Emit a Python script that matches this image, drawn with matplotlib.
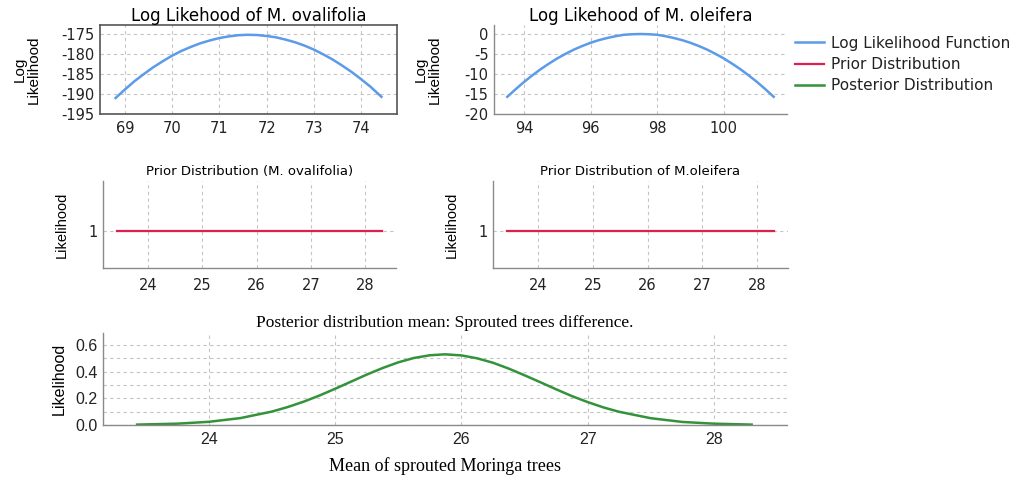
import matplotlib
matplotlib.use("Agg")
import matplotlib.pyplot as plt

plt.rcParams.update({
    "font.family": ["DejaVu Sans"],
    "font.size": 10,
    "axes.unicode_minus": False,
    "axes.linewidth": 1.0,
    "xtick.major.size": 0,
    "ytick.major.size": 0,
})

# log likelihood, M. ovalifolia
oval_x = [68.8, 69.0, 69.2, 69.4, 69.6, 69.8, 70.0, 70.2, 70.4, 70.6, 70.8, 71.0, 71.2, 71.4,
          71.6, 71.8, 72.0, 72.2, 72.4, 72.6, 72.8, 73.0, 73.2, 73.4, 73.6, 73.8, 74.0, 74.2, 74.43]
oval_ll = [-191.0, -188.85, -186.8, -185.0, -183.3, -181.8, -180.4, -179.2, -178.2, -177.3,
           -176.6, -176.0, -175.6, -175.3, -175.2, -175.26, -175.5, -175.84, -176.4, -177.06,
           -177.9, -178.9, -180.1, -181.4, -182.9, -184.5, -186.3, -188.2, -190.7]

# log likelihood, M. oleifera
olei_x = [93.5, 93.75, 94.0, 94.25, 94.5, 94.75, 95.0, 95.25, 95.5, 95.75, 96.0, 96.25, 96.5,
          96.75, 97.0, 97.25, 97.5, 97.75, 98.0, 98.25, 98.5, 98.75, 99.0, 99.25, 99.5, 99.75,
          100.0, 100.25, 100.5, 100.75, 101.0, 101.25, 101.5]
olei_ll = [-15.7, -13.8, -12.0, -10.35, -8.8, -7.41, -6.1, -4.96, -3.9, -3.0, -2.2, -1.53,
           -1.0, -0.55, -0.2, -0.06, 0.0, -0.06, -0.2, -0.55, -1.0, -1.53, -2.2, -3.0, -3.9,
           -4.96, -6.1, -7.41, -8.8, -10.35, -12.0, -13.8, -15.7]

# flat priors
prior_x = [23.42, 28.31]
prior_oval = [1, 1]
prior_olei = [1, 1]

# posterior of the mean difference
post_x = [23.43, 23.75, 24.0, 24.25, 24.5, 24.625, 24.75, 24.875, 25.0, 25.125, 25.25, 25.375,
          25.5, 25.625, 25.75, 25.87, 26.0, 26.125, 26.25, 26.375, 26.5, 26.625, 26.75, 26.875,
          27.0, 27.125, 27.25, 27.5, 27.75, 28.0, 28.3]
post_y = [0.003, 0.010, 0.024, 0.052, 0.101, 0.135, 0.175, 0.221, 0.272, 0.325, 0.378, 0.427,
          0.470, 0.503, 0.523, 0.530, 0.522, 0.500, 0.467, 0.423, 0.373, 0.321, 0.268, 0.217,
          0.172, 0.132, 0.099, 0.051, 0.023, 0.010, 0.003]

BLUE = "#5b9be8"
RED = "#e0204c"
GREEN = "#33923a"
GRID = "#c4c4c4"
SPINE = "#8a8a8a"

W, H = 1019, 478
fig = plt.figure(figsize=(W / 100, H / 100), dpi=100)
fig.patch.set_facecolor("white")


def box(x0, y0, x1, y1):
    return [x0 / W, 1 - y1 / H, (x1 - x0) / W, (y1 - y0) / H]


def style(ax, full=False, size=10.5, xpad=5):
    for s in ["top", "right"]:
        ax.spines[s].set_visible(full)
    for s in ax.spines.values():
        s.set_color("#555555" if full else SPINE)
        s.set_linewidth(1.2 if full else 1.0)
    ax.grid(True, color=GRID, linestyle=(0, (3, 3)), linewidth=0.8)
    ax.set_axisbelow(True)
    ax.tick_params(colors="#222222", labelsize=size)
    ax.tick_params(axis="x", pad=xpad)
    ax.tick_params(axis="y", pad=4)


sans = ["Liberation Sans", "DejaVu Sans"]
serif = ["Liberation Serif", "DejaVu Serif"]

# top row: log likelihoods
ax1 = fig.add_axes(box(100, 25, 397, 114))
l_ll, = ax1.plot(oval_x, oval_ll, color=BLUE, lw=1.8, label="Log Likelihood Function")
ax1.set_xlim(68.47, 74.76)
ax1.set_ylim(-195, -172.75)
ax1.set_xticks([69, 70, 71, 72, 73, 74])
ax1.set_yticks([-175, -180, -185, -190, -195])
style(ax1, full=True)
ax1.set_title("Log Likehood of M. ovalifolia", fontsize=12, pad=3)
ax1.set_ylabel("Log\nLikelihood", fontsize=11, family=sans, linespacing=1.0, labelpad=15)

ax2 = fig.add_axes(box(494, 25, 787, 114))
ax2.plot(olei_x, olei_ll, color=BLUE, lw=1.8)
ax2.set_xlim(93.1, 101.9)
ax2.set_ylim(-20, 2.25)
ax2.set_xticks([94, 96, 98, 100])
ax2.set_yticks([0, -5, -10, -15, -20])
style(ax2)
ax2.set_title("Log Likehood of M. oleifera", fontsize=12, pad=3)
ax2.set_ylabel("Log\nLikelihood", fontsize=11, family=sans, linespacing=1.0, labelpad=16)

# middle row: priors
ax3 = fig.add_axes(box(103, 181, 396, 268))
l_pr, = ax3.plot(prior_x, prior_oval, color=RED, lw=1.6, label="Prior Distribution")
ax3.set_title("Prior Distribution (M. ovalifolia)", fontsize=9.5, pad=4)
ax4 = fig.add_axes(box(493, 181, 788, 268))
ax4.plot(prior_x, prior_olei, color=RED, lw=1.6)
ax4.set_title("Prior Distribution of M.oleifera", fontsize=9.5, pad=4)
for ax in (ax3, ax4):
    ax.set_xlim(23.17, 28.57)
    ax.set_ylim(0.57, 1.57)
    ax.set_xticks([24, 25, 26, 27, 28])
    ax.set_yticks([1])
    style(ax, size=10.5, xpad=7)
    ax.set_ylabel("Likelihood", fontsize=10.5, family=sans, labelpad=14)

# bottom: posterior
ax5 = fig.add_axes(box(103, 333, 787, 425))
l_po, = ax5.plot(post_x, post_y, color=GREEN, lw=1.8, label="Posterior Distribution")
ax5.set_xlim(23.16, 28.58)
ax5.set_ylim(0, 0.69)
ax5.set_xticks([24, 25, 26, 27, 28])
ax5.set_yticks([0.0, 0.2, 0.4, 0.6])
ax5.set_yticks([0.1, 0.3, 0.5], minor=True)
ax5.tick_params(which="minor", length=0)
style(ax5)
ax5.grid(True, which="minor", axis="y", color=GRID, linestyle=(0, (3, 3)), linewidth=0.8)
ax5.set_yticklabels(["0.0", "0.2", "0.4", "0.6"], family=sans, fontsize=11.5)
ax5.set_xticklabels(["24", "25", "26", "27", "28"], family=sans, fontsize=11.5)
ax5.set_title("Posterior distribution mean: Sprouted trees difference.",
              fontsize=12.5, family=serif, pad=4)
ax5.set_xlabel("Mean of sprouted Moringa trees", fontsize=13, family=serif, labelpad=7)
ax5.set_ylabel("Likelihood", fontsize=11.5, family=sans, labelpad=6)

fig.legend(handles=[l_ll, l_pr, l_po], loc="upper left",
           bbox_to_anchor=(781 / W, 1 - 22 / H), frameon=False, fontsize=11,
           handlelength=1.9, handletextpad=0.5, labelspacing=0.4,
           labelcolor="#222222")

fig.savefig("out.png", dpi=100, facecolor="white")
